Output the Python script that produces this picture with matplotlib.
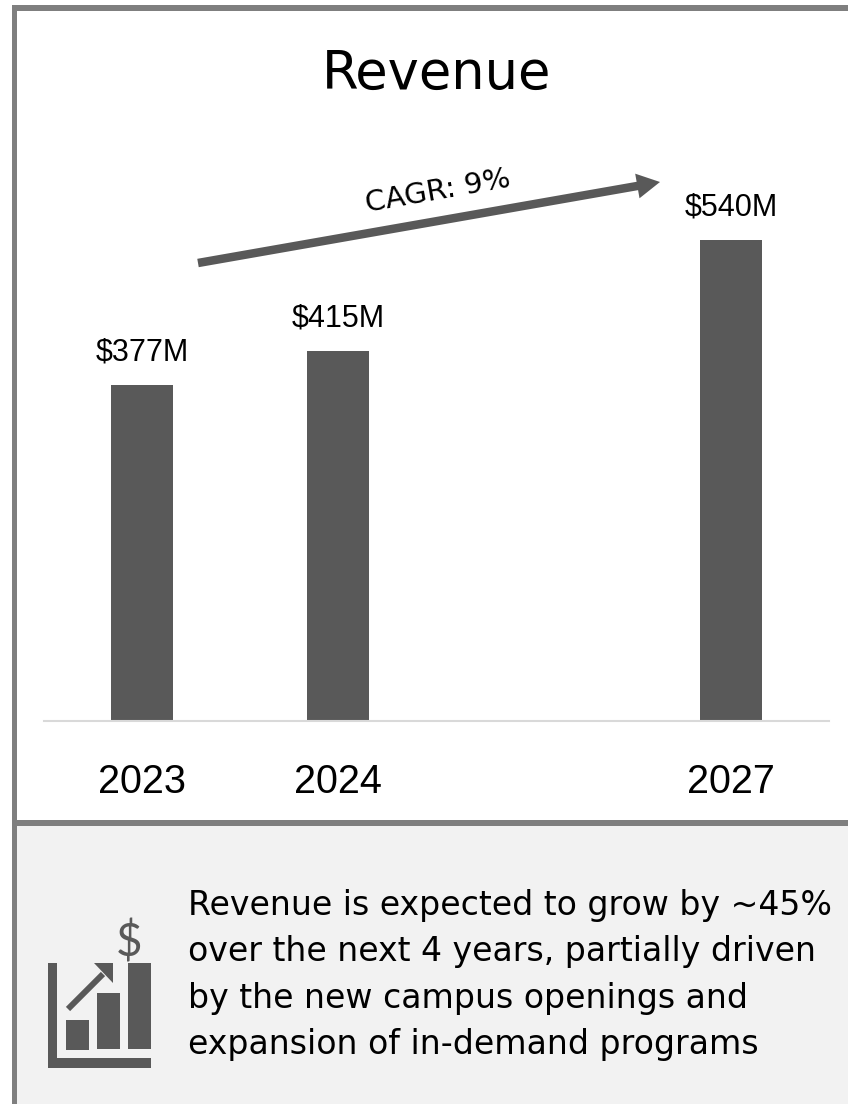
import matplotlib
matplotlib.use("Agg")
import matplotlib.pyplot as plt
from matplotlib.patches import Rectangle, FancyArrow, Polygon

W, H = 848, 1104

slots = [0, 1, 3]
shown_years = ['2023', '2024', '2027']
revenue = [377, 415, 540]
revenue_labels = ['$377M', '$415M', '$540M']
note = ['Revenue is expected to grow by ~45%',
        'over the next 4 years, partially driven',
        'by the new campus openings and',
        'expansion of in-demand programs']

BAR = '#595959'
FRAME = '#7f7f7f'
plt.rcParams['font.family'] = ['DejaVu Sans']

fig = plt.figure(figsize=(W/100, H/100), dpi=100, facecolor='white')

# page layer in pixel coordinates (y down)
bg = fig.add_axes([0, 0, 1, 1])
bg.set_xlim(0, W)
bg.set_ylim(H, 0)
bg.axis('off')
bg.add_patch(Rectangle((12, 826), W-12, H-826, fc='#f2f2f2', ec='none'))
bg.add_patch(Rectangle((12, 5), W-12, 6, fc=FRAME, ec='none'))
bg.add_patch(Rectangle((12, 5), 5, H-5, fc=FRAME, ec='none'))
bg.add_patch(Rectangle((12, 820), W-12, 6, fc=FRAME, ec='none'))

bg.text(437, 89, 'Revenue', fontsize=38, ha='center', va='baseline', color='black')

# growth arrow
bg.add_patch(FancyArrow(198, 263, 462, -81, width=8.5, head_width=25, head_length=23,
                        length_includes_head=True, fc=BAR, ec='none'))
bg.text(438, 191, 'CAGR: 9%', fontsize=21, rotation=10, ha='center', va='center',
        rotation_mode='anchor', color='black')

# chart
ax = fig.add_axes([44/W, 1-721.2/H, 785/W, 534.6/H], facecolor='none')
ax.bar(slots, revenue, width=0.316, color=BAR)
ax.set_xlim(-0.5, 3.5)
ax.set_ylim(0, 600)
for s in ['top', 'left', 'right']:
    ax.spines[s].set_visible(False)
ax.spines['bottom'].set_color('#d9d9d9')
ax.spines['bottom'].set_linewidth(1.5)
ax.set_yticks([])
ax.set_xticks(slots)
ax.set_xticklabels(shown_years, fontsize=28.5, family=['Liberation Sans'])
ax.tick_params(axis='x', length=0, pad=30)
for x, v, lab in zip(slots, revenue, revenue_labels):
    ax.annotate(lab, (x, v), xytext=(0, 13), textcoords='offset points', ha='center',
                va='bottom', fontsize=22, color='black', family=['Liberation Sans'])

# note text
for i, line in enumerate(note):
    bg.text(188, 915 + i*46.3, line, fontsize=23.9, va='baseline', ha='left', color='black')

# small chart icon
bg.add_patch(Rectangle((48, 963), 9, 105, fc=BAR, ec='none'))
bg.add_patch(Rectangle((48, 1058), 103, 10, fc=BAR, ec='none'))
bg.add_patch(Rectangle((66, 1020), 23, 30, fc=BAR, ec='none'))
bg.add_patch(Rectangle((97, 993), 22.5, 56, fc=BAR, ec='none'))
bg.add_patch(Rectangle((128, 963), 23, 86, fc=BAR, ec='none'))
bg.plot([68, 103], [1009, 974], color=BAR, lw=4.3, solid_capstyle='butt')
bg.add_patch(Polygon([(94, 963), (113, 963), (113, 983)], fc=BAR, ec='none'))
bg.text(129, 943, '$', fontsize=33, ha='center', va='center', color=BAR, family=['Lato'])

fig.savefig('out.png', dpi=100)
